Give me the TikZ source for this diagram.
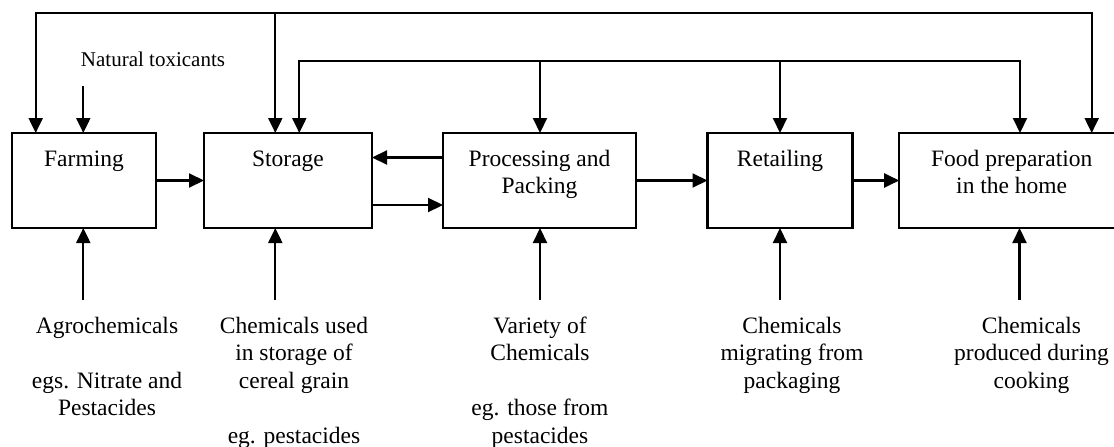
\documentclass[tikz,border=0pt]{standalone}
\usepackage{fontspec}
\setmainfont{Liberation Serif}
\usetikzlibrary{arrows.meta}
\begin{document}
\begin{tikzpicture}[x=1pt,y=-1pt,line width=2.1pt,
  arr/.style={-{Triangle[length=15pt,width=14pt]}},
  dbl/.style={{Triangle[length=15pt,width=14pt]}-{Triangle[length=15pt,width=14pt]}},
  stage/.style={draw,line width=2.1pt,inner sep=0pt,outer sep=0pt,anchor=north,
    text height=33pt,text depth=62pt,font=\fontsize{23.5}{27.5}\selectfont},
  src/.style={inner sep=0pt,outer sep=0pt,anchor=base,font=\fontsize{23.5}{27.5}\selectfont},
]
\useasboundingbox (0,0) rectangle (1114,447);

% stage boxes
\node[stage,minimum width=144pt] (farm) at (84,133) {Farming};
\node[stage,minimum width=168pt] (stor) at (288,133) {Storage};
\node[stage,minimum width=193pt] (proc) at (539.5,133)
  {\begin{tabular}[t]{@{}c@{}}Processing and\\Packing\end{tabular}};
\node[stage,minimum width=145pt] (ret) at (780,133) {Retailing};
\node[stage,minimum width=225pt] (food) at (1011.7,133)
  {\begin{tabular}[t]{@{}c@{}}Food preparation\\in the home\end{tabular}};

% natural toxicants
\node[inner sep=0pt,anchor=base,font=\fontsize{21}{25}\selectfont] (nat) at (153,66.7) {Natural toxicants};
\coordinate (natS) at (83.3,86);
\draw[arr] (natS) -- (farm.north -| natS);

% top loop
\coordinate (t1) at (35.7,12.7);
\coordinate (t2) at (1091.7,12.7);
\coordinate (t3) at (275.3,12.7);
\draw[dbl] (farm.north -| t1) -- (t1) -- (t2) -- (food.north -| t2);
\draw[arr] (t3) -- (stor.north -| t3);

% second loop
\coordinate (s1) at (299.3,60.7);
\coordinate (s2) at (1020,60.7);
\coordinate (s3) at (540,60.7);
\coordinate (s4) at (780,60.7);
\draw[dbl] (stor.north -| s1) -- (s1) -- (s2) -- (food.north -| s2);
\draw[arr] (s3) -- (proc.north -| s3);
\draw[arr] (s4) -- (ret.north -| s4);

% flow between stages
\draw[arr] (farm.east) -- (stor.west);
\draw[arr] ([yshift=23pt]proc.west) -- ([yshift=23pt]stor.east);
\draw[arr] ([yshift=-24.5pt]stor.east) -- ([yshift=-24.5pt]proc.west);
\draw[arr] (proc.east) -- (ret.west);
\draw[arr] (ret.east) -- (food.west);

% sources below
\coordinate (b1) at (83.3,300);
\coordinate (b2) at (275.3,300);
\coordinate (b3) at (540,300);
\coordinate (b4) at (780,300);
\coordinate (b5) at (1019.5,300);
\draw[arr] (b1) -- (farm.south -| b1);
\draw[arr] (b2) -- (stor.south -| b2);
\draw[arr] (b3) -- (proc.south -| b3);
\draw[arr] (b4) -- (ret.south -| b4);
\draw[arr] (b5) -- (food.south -| b5);

\node[src] (l1) at (107,333.3) {\begin{tabular}[t]{@{}c@{}}Agrochemicals\\ \\egs. Nitrate and\\Pestacides\end{tabular}};
\node[src] (l2) at (294,333.3) {\begin{tabular}[t]{@{}c@{}}Chemicals used\\in storage of\\cereal grain\\ \\eg. pestacides\end{tabular}};
\node[src] (l3) at (540,333.3) {\begin{tabular}[t]{@{}c@{}}Variety of\\Chemicals\\ \\eg. those from\\pestacides\end{tabular}};
\node[src] (l4) at (792,333.3) {\begin{tabular}[t]{@{}c@{}}Chemicals\\migrating from\\packaging\end{tabular}};
\node[src] (l5) at (1031.5,333.3) {\begin{tabular}[t]{@{}c@{}}Chemicals\\produced during\\cooking\end{tabular}};
\end{tikzpicture}
\end{document}
